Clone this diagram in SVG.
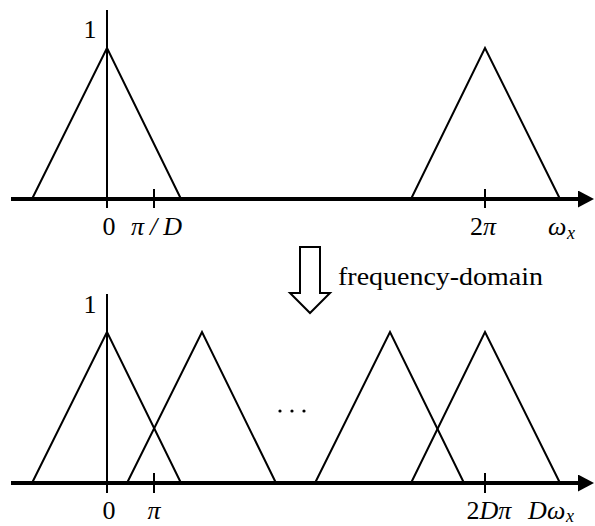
<svg xmlns="http://www.w3.org/2000/svg" width="595" height="526" viewBox="0 0 595 526">
<defs>
<style>
.axis{stroke:#000;stroke-width:4;fill:none}
.v{stroke:#000;stroke-width:2;fill:none}
.tri{stroke:#000;stroke-width:2;fill:none;stroke-linejoin:miter}
.lbl{font-family:'Liberation Serif','Times New Roman',serif;font-size:26px;fill:#000}
.m{font-style:italic}
.sub{font-family:'Liberation Serif','Times New Roman',serif;font-size:18px;font-style:italic;fill:#000}
</style>
<marker id="ah" viewBox="0 0 16 17" refX="0" refY="8.5" markerWidth="16" markerHeight="17" markerUnits="userSpaceOnUse" orient="auto">
<path d="M0,0 L16,8.5 L0,17 Z" fill="#000"/>
</marker>
</defs>
<g id="top-panel">
<g id="top-axes">
<line class="axis" x1="11" y1="199" x2="578" y2="199" marker-end="url(#ah)"/>
<line class="v" x1="107" y1="10" x2="107" y2="208"/>
<line class="v" x1="154" y1="189" x2="154" y2="208"/>
<line class="v" x1="485" y1="189" x2="485" y2="208"/>
</g>
<g id="top-tri-1"><polyline class="tri" points="32,199 107,48 181,199"/></g>
<g id="top-tri-2"><polyline class="tri" points="411,199 485,48 560,199"/></g>
<g id="top-labels">
<text class="lbl" x="90" y="38" text-anchor="middle">1</text>
<text class="lbl" x="109" y="235" text-anchor="middle">0</text>
<text class="lbl m" x="131" y="235" textLength="51" lengthAdjust="spacing">π/D</text>
<text class="lbl" x="483" y="235" text-anchor="middle">2<tspan class="m">π</tspan></text>
<text class="lbl m" x="548" y="235">ω<tspan class="sub" x="567" y="239">x</tspan></text>
</g>
</g>
<g id="transform">
<path d="M300,247 L320,247 L320,293 L330,293 L310,313 L290,293 L300,293 Z" fill="#fff" stroke="#000" stroke-width="2"/>
<text class="lbl" x="338" y="285" textLength="205" lengthAdjust="spacingAndGlyphs">frequency-domain</text>
</g>
<g id="bottom-panel">
<g id="bottom-axes">
<line class="axis" x1="11" y1="483" x2="578" y2="483" marker-end="url(#ah)"/>
<line class="v" x1="107" y1="294" x2="107" y2="493"/>
<line class="v" x1="154" y1="473" x2="154" y2="493"/>
<line class="v" x1="485" y1="473" x2="485" y2="493"/>
</g>
<g id="bot-tri-1"><polyline class="tri" points="32,483 107,332 181,483"/></g>
<g id="bot-tri-2"><polyline class="tri" points="127,483 202,332 276,483"/></g>
<g id="bot-tri-3"><polyline class="tri" points="315,483 390,332 464,483"/></g>
<g id="bot-tri-4"><polyline class="tri" points="411,483 485,332 560,483"/></g>
<g id="dots">
<circle cx="280" cy="411" r="1.6"/>
<circle cx="292" cy="411" r="1.6"/>
<circle cx="304" cy="411" r="1.6"/>
</g>
<g id="bottom-labels">
<text class="lbl" x="90" y="313" text-anchor="middle">1</text>
<text class="lbl" x="109" y="519" text-anchor="middle">0</text>
<text class="lbl m" x="154" y="519" text-anchor="middle">π</text>
<text class="lbl" x="489" y="519" text-anchor="middle">2<tspan class="m">Dπ</tspan></text>
<text class="lbl m" x="528" y="519">D<tspan x="547">ω</tspan><tspan class="sub" x="566" y="522">x</tspan></text>
</g>
</g>
</svg>
